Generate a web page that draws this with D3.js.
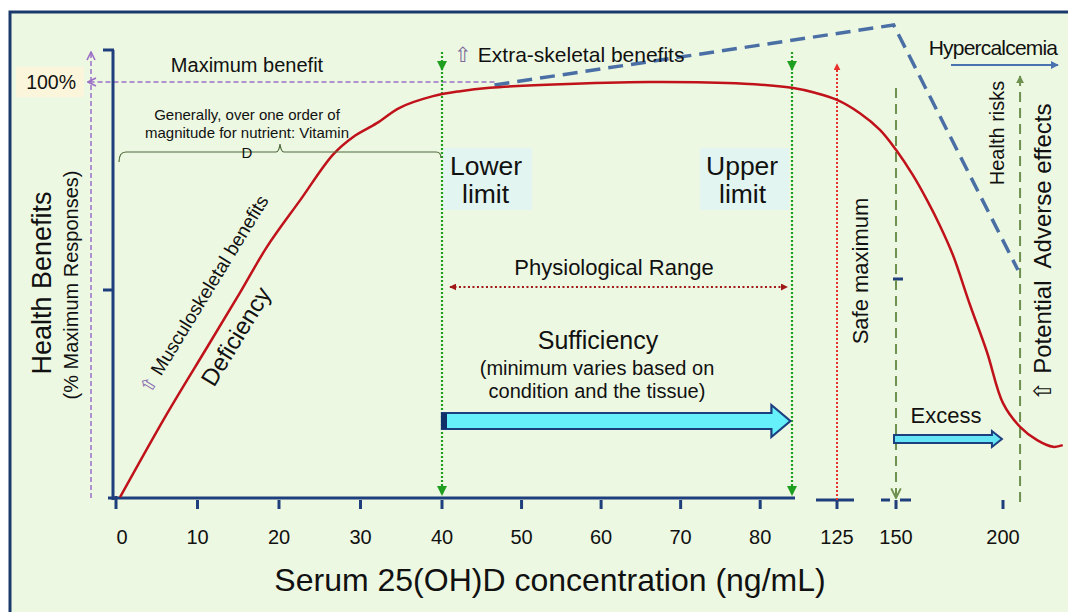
<!DOCTYPE html>
<html>
<head>
<meta charset="utf-8">
<script src="https://cdn.jsdelivr.net/npm/d3@7"></script>
<style>
  body { margin: 0; background: #fff; }
  svg text { font-family: "Liberation Sans", Arial, sans-serif; fill: #111; }
</style>
</head>
<body>
<div id="chart"></div>
<script>
// x ticks (ng/mL) - the axis is broken after ~85
const xTicks = [0, 10, 20, 30, 40, 50, 60, 70, 80, 125, 150, 200];
// health benefit curve: [concentration, % of maximum response]
const benefitCurve = [
  [0.5, 0.2], [6.3, 20.4], [11.2, 36.3], [15.2, 49.3], [18.5, 60.3], [22.6, 71.6],
  [26.6, 82.5], [29.1, 86.8], [32, 90.1], [34.8, 93.8], [38.9, 96.6], [42.3, 97.8],
  [46, 98.6], [54, 99.4], [66, 100], [78, 99.6], [84, 98.6], [105, 97.4], [125, 95.7],
  [134.7, 92.5], [143.2, 88.5], [150, 83.7], [157.9, 77.6], [164.5, 71.6], [170.6, 65.4],
  [176.6, 58.4], [184.6, 46.4], [192.5, 35.1], [200, 22.8], [208, 17.1], [216, 13.9],
  [223.5, 12.3], [228, 12.7]
];
// extra-skeletal benefits / health risks (dashed)
const extraSkeletal = [[46.6, 99.3], [149, 113.7], [207, 54.8]];
// reference concentrations
const lowerLimit = 40, upperLimit = 84, safeMax = 125, excessStart = 150, adverseStart = 208;

const W = 1068, H = 612;
const svg = d3.select("#chart").append("svg").attr("width", W).attr("height", H);

const x = d3.scaleLinear()
  .domain([0, 40, 84, 125, 150, 200, 230])
  .range([116, 442, 792, 837, 896, 1003, 1067]);
const y = d3.scaleLinear().domain([0, 100]).range([498, 82]);

const navy = "#1e3f7c";

// panel
svg.append("rect").attr("x", 10).attr("y", 12).attr("width", W - 8).attr("height", H)
  .attr("fill", "#edf8e2").attr("stroke", "#1b3a6b").attr("stroke-width", 3);

// defs for arrows
const defs = svg.append("defs");
function marker(id, color, open, size) {
  const s = size || 6;
  const m = defs.append("marker").attr("id", id).attr("viewBox", "0 0 10 10")
    .attr("refX", 9).attr("refY", 5).attr("markerWidth", s).attr("markerHeight", s)
    .attr("orient", "auto-start-reverse").attr("markerUnits", "userSpaceOnUse");
  if (open) m.append("path").attr("d", "M1,1 L9,5 L1,9")
    .attr("fill", "none").attr("stroke", color).attr("stroke-width", 1.6);
  else m.append("path").attr("d", "M0,0 L10,5 L0,10 z").attr("fill", color);
}
marker("aPurple", "#9b6fc6", true, 10);
marker("aGreen", "#1f9e1f", false, 10);
marker("aRed", "#e8302c", false, 7);
marker("aDark", "#a01818", false, 7);
marker("aOlive", "#6e9150", true, 12);
marker("aOliveF", "#6e9150", false, 8);
marker("aBlue", "#4a72b0", false, 8);

// 100% label box
svg.append("rect").attr("x", 16).attr("y", 67).attr("width", 68).attr("height", 30).attr("fill", "#fbf5dc");
svg.append("text").attr("x", 76).attr("y", 89).attr("text-anchor", "end").attr("font-size", 19.5).text("100%");

// purple dashed max-benefit guides
svg.append("line").attr("x1", 91).attr("x2", 91).attr("y1", y(0)).attr("y2", 52)
  .attr("stroke", "#9b6fc6").attr("stroke-width", 1.5).attr("stroke-dasharray", "5,3")
  .attr("marker-end", "url(#aPurple)");
svg.append("line").attr("x1", x(46.6)).attr("x2", 88).attr("y1", y(100)).attr("y2", y(100))
  .attr("stroke", "#9b6fc6").attr("stroke-width", 1.5).attr("stroke-dasharray", "5,3")
  .attr("marker-end", "url(#aPurple)");

// lower / upper limit boxes
svg.append("rect").attr("x", x(lowerLimit) + 1).attr("y", 148).attr("width", 89).attr("height", 62).attr("fill", "#e2f5f0");
svg.append("rect").attr("x", x(upperLimit) - 92).attr("y", 148).attr("width", 89).attr("height", 62).attr("fill", "#e2f5f0");
svg.append("text").attr("x", x(lowerLimit) + 8).attr("y", 175).attr("font-size", 26.5).text("Lower");
svg.append("text").attr("x", x(lowerLimit) + 20).attr("y", 203).attr("font-size", 26.5).text("limit");
svg.append("text").attr("x", x(upperLimit) - 86).attr("y", 175).attr("font-size", 26.5).text("Upper");
svg.append("text").attr("x", x(upperLimit) - 73).attr("y", 203).attr("font-size", 26.5).text("limit");

// axes
const yAxis = svg.append("g").attr("stroke", navy).attr("stroke-width", 3);
yAxis.append("line").attr("x1", 113).attr("x2", 113).attr("y1", 50).attr("y2", y(0) + 2);
yAxis.append("line").attr("x1", 103).attr("x2", 114).attr("y1", 50).attr("y2", 50);
yAxis.append("line").attr("x1", 103).attr("x2", 113).attr("y1", y(50)).attr("y2", y(50));

const xAxis = svg.append("g").attr("stroke", navy).attr("stroke-width", 3);
xAxis.append("line").attr("x1", 108).attr("x2", x(upperLimit) + 3).attr("y1", y(0)).attr("y2", y(0));
xAxis.append("line").attr("x1", x(safeMax) - 21).attr("x2", x(safeMax) + 17).attr("y1", y(0) + 2).attr("y2", y(0) + 2);
xAxis.append("line").attr("x1", x(excessStart) - 15).attr("x2", x(excessStart) - 6).attr("y1", y(0) + 2).attr("y2", y(0) + 2);
xAxis.append("line").attr("x1", x(excessStart) + 4).attr("x2", x(excessStart) + 15).attr("y1", y(0) + 2).attr("y2", y(0) + 2);
xAxis.append("line").attr("x1", x(excessStart) - 3).attr("x2", x(excessStart) + 7).attr("y1", 279).attr("y2", 279);
xAxis.selectAll("line.tick").data(xTicks).join("line").attr("class", "tick")
  .attr("x1", d => x(d)).attr("x2", d => x(d))
  .attr("y1", d => d === 0 ? y(0) - 2 : y(0) + 2).attr("y2", y(0) + 11);
svg.selectAll("text.tl").data(xTicks).join("text").attr("class", "tl")
  .attr("x", d => x(d) + (d === 0 ? 6 : 0)).attr("y", 544).attr("text-anchor", "middle")
  .attr("font-size", 20).attr("fill", "#222").text(d => d);

// axis titles
svg.append("text").attr("x", 550).attr("y", 591).attr("text-anchor", "middle").attr("font-size", 32)
  .text("Serum 25(OH)D concentration (ng/mL)");
svg.append("text").attr("transform", "translate(51,283) rotate(-90)").attr("text-anchor", "middle")
  .attr("font-size", 27).text("Health Benefits");
svg.append("text").attr("transform", "translate(78,285) rotate(-90)").attr("text-anchor", "middle")
  .attr("font-size", 20).text("(% Maximum Responses)");

// vertical reference lines
[lowerLimit, upperLimit].forEach(v => {
  svg.append("line").attr("x1", x(v)).attr("x2", x(v)).attr("y1", 52).attr("y2", y(0) - 3)
    .attr("stroke", "#1f9e1f").attr("stroke-width", 2.2).attr("stroke-dasharray", "2,2").attr("marker-end", "url(#aGreen)");
  svg.append("line").attr("x1", x(v)).attr("x2", x(v)).attr("y1", 52).attr("y2", 70)
    .attr("stroke", "none").attr("marker-end", "url(#aGreen)");
});
svg.append("line").attr("x1", x(safeMax)).attr("x2", x(safeMax)).attr("y1", y(0) + 2).attr("y2", 64)
  .attr("stroke", "#e8302c").attr("stroke-width", 2).attr("stroke-dasharray", "2,2").attr("marker-end", "url(#aRed)");
svg.append("line").attr("x1", x(excessStart)).attr("x2", x(excessStart)).attr("y1", 88).attr("y2", y(0))
  .attr("stroke", "#6e9150").attr("stroke-width", 2).attr("stroke-dasharray", "10,6").attr("marker-end", "url(#aOlive)");
svg.append("line").attr("x1", x(adverseStart)).attr("x2", x(adverseStart)).attr("y1", y(0) + 4).attr("y2", 76)
  .attr("stroke", "#6e9150").attr("stroke-width", 2).attr("stroke-dasharray", "10,6").attr("marker-end", "url(#aOliveF)");

// extra-skeletal dashed line
svg.append("path").datum(extraSkeletal)
  .attr("d", d3.line().x(d => x(d[0])).y(d => y(d[1])))
  .attr("fill", "none").attr("stroke", "#4a6fa5").attr("stroke-width", 3.5).attr("stroke-dasharray", "15,8");

// main curve
svg.append("path").datum(benefitCurve)
  .attr("d", d3.line().x(d => x(d[0])).y(d => y(d[1])).curve(d3.curveCatmullRom.alpha(0.5)))
  .attr("fill", "none").attr("stroke", "#c0121a").attr("stroke-width", 2.5);

// brace for the order-of-magnitude note
const braceY = 152;
svg.append("path")
  .attr("d", `M${x(0) + 3},${braceY + 10} Q${x(0) + 3},${braceY} ${x(0) + 10},${braceY} L${x(20) - 3},${braceY} Q${x(20)},${braceY} ${x(20) + 1},${braceY - 8} Q${x(20) + 2},${braceY} ${x(20) + 5},${braceY} L${x(lowerLimit) - 6},${braceY} Q${x(lowerLimit) - 1},${braceY} ${x(lowerLimit) - 1},${braceY + 6}`)
  .attr("fill", "none").attr("stroke", "#4e6b3a").attr("stroke-width", 1.2);
svg.append("text").attr("x", 247).attr("y", 120).attr("text-anchor", "middle").attr("font-size", 15)
  .text("Generally, over one order of");
svg.append("text").attr("x", 247).attr("y", 138).attr("text-anchor", "middle").attr("font-size", 15)
  .text("magnitude for nutrient: Vitamin");
svg.append("text").attr("x", 247).attr("y", 158).attr("text-anchor", "middle").attr("font-size", 15).text("D");
svg.append("text").attr("x", 247).attr("y", 72).attr("text-anchor", "middle").attr("font-size", 20)
  .text("Maximum benefit");

// annotations
svg.append("text").attr("x", 454).attr("y", 62).attr("font-size", 21)
  .html('<tspan fill="#7a6a9a">\u21E7</tspan> Extra-skeletal benefits');
svg.append("text").attr("transform", "translate(150,395) rotate(-58.5)").attr("font-size", 19)
  .html('<tspan fill="#8a70b0">\u21E7</tspan> Musculoskeletal benefits');
svg.append("text").attr("transform", "translate(214,388) rotate(-58.5)").attr("font-size", 24).text("Deficiency");

svg.append("text").attr("x", 614).attr("y", 275).attr("text-anchor", "middle").attr("font-size", 22)
  .text("Physiological Range");
svg.append("line").attr("x1", x(41)).attr("x2", x(83.4)).attr("y1", 287).attr("y2", 287)
  .attr("stroke", "#a01818").attr("stroke-width", 2).attr("stroke-dasharray", "2,2.5")
  .attr("marker-start", "url(#aDark)").attr("marker-end", "url(#aDark)");

svg.append("text").attr("x", 598).attr("y", 349).attr("text-anchor", "middle").attr("font-size", 25).text("Sufficiency");
svg.append("text").attr("x", 597).attr("y", 375).attr("text-anchor", "middle").attr("font-size", 20)
  .text("(minimum varies based on");
svg.append("text").attr("x", 597).attr("y", 398).attr("text-anchor", "middle").attr("font-size", 20)
  .text("condition and the tissue)");

// block arrows
function blockArrow(x0, x1, yc, bh, hh, hl) {
  return `M${x0},${yc - bh / 2} L${x1 - hl},${yc - bh / 2} L${x1 - hl},${yc - hh / 2} L${x1},${yc} ` +
    `L${x1 - hl},${yc + hh / 2} L${x1 - hl},${yc + bh / 2} L${x0},${yc + bh / 2} Z`;
}
svg.append("path").attr("d", blockArrow(x(lowerLimit), x(83.8), 421, 16, 32, 19))
  .attr("fill", "#66f0fa").attr("stroke", "#1c3f80").attr("stroke-width", 2.2);
svg.append("rect").attr("x", x(lowerLimit) - 1).attr("y", 413).attr("width", 6).attr("height", 16).attr("fill", "#10306a");
svg.append("path").attr("d", blockArrow(x(excessStart) - 2, x(199.5), 439, 8, 16, 10))
  .attr("fill", "#66e6f5").attr("stroke", "#1c3f80").attr("stroke-width", 2);
svg.append("text").attr("x", 946).attr("y", 423).attr("text-anchor", "middle").attr("font-size", 22).text("Excess");

svg.append("text").attr("transform", "translate(868,271) rotate(-90)").attr("text-anchor", "middle")
  .attr("font-size", 22).text("Safe maximum");
svg.append("text").attr("transform", "translate(1004,133) rotate(-90)").attr("text-anchor", "middle")
  .attr("font-size", 20).text("Health risks");
svg.append("text").attr("transform", "translate(1051,252) rotate(-90)").attr("text-anchor", "middle")
  .attr("font-size", 24).attr("xml:space", "preserve").html('\u21E7 Potential\u00A0 Adverse effects');

svg.append("text").attr("x", 993).attr("y", 55).attr("text-anchor", "middle").attr("font-size", 21)
  .attr("letter-spacing", -0.8).text("Hypercalcemia");
svg.append("line").attr("x1", 951).attr("x2", 1058).attr("y1", 65).attr("y2", 65)
  .attr("stroke", "#4a72b0").attr("stroke-width", 2).attr("marker-end", "url(#aBlue)");
</script>
</body>
</html>
